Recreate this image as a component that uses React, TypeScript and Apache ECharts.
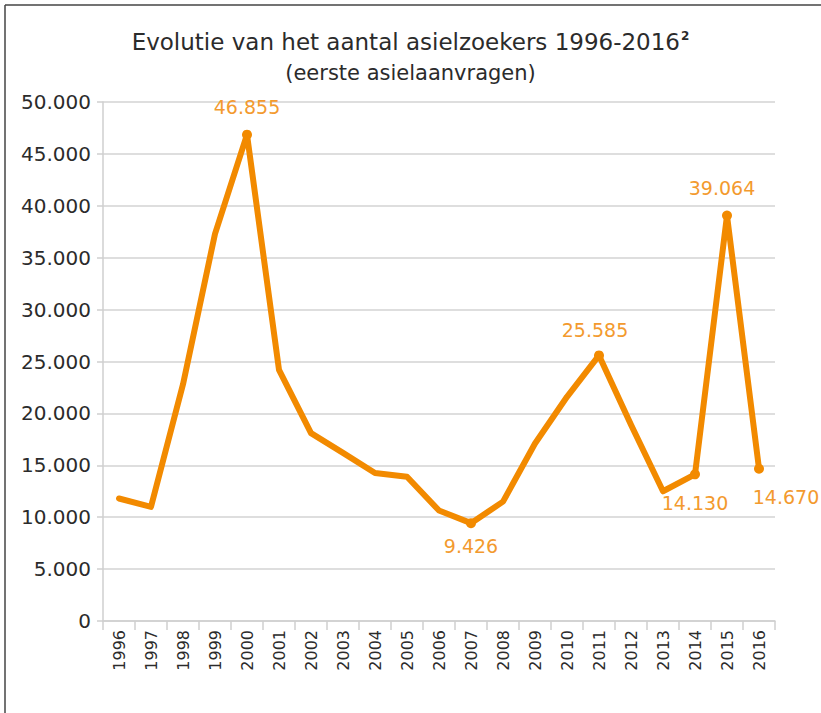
import React, { useEffect, useRef } from "react";
import * as echarts from "echarts";

const years = ["1996","1997","1998","1999","2000","2001","2002","2003","2004","2005","2006","2007","2008","2009","2010","2011","2012","2013","2014","2015","2016"];
const asylumSeekers = [11800, 11000, 22800, 37300, 46855, 24200, 18100, 16200, 14260, 13900, 10640, 9426, 11500, 17100, 21600, 25585, 18900, 12500, 14130, 39064, 14670];
const labelledYears = ["2000", "2007", "2011", "2014", "2015", "2016"];
const yTickValues = [0, 5000, 10000, 15000, 20000, 25000, 30000, 35000, 40000, 45000, 50000];

const fmt = (v: number) => {
  const s = String(Math.round(v));
  return s.replace(/\B(?=(\d{3})+(?!\d))/g, ".");
};

const FONT = "'DejaVu Sans', sans-serif";
const LINE = "#F28A00";
const LABEL = "#F39A2E";

export default function App() {
  const ref = useRef<HTMLDivElement>(null);
  useEffect(() => {
    if (!ref.current) return;
    const chart = echarts.init(ref.current, null, { renderer: "svg" });
    const labelCfg: Record<string, any> = {
      "2000": { position: "top", distance: 13, offset: [0, 0] },
      "2007": { position: "bottom", distance: 8, offset: [0, 0] },
      "2011": { position: "top", distance: 11, offset: [-4, 0] },
      "2014": { position: "bottom", distance: 14, offset: [0, 0] },
      "2015": { position: "top", distance: 13, offset: [-5, 0] },
      "2016": { position: "bottom", distance: 14, offset: [27, 0] },
    };
    const data = asylumSeekers.map((v, i) => {
      const y = years[i];
      if (labelledYears.indexOf(y) >= 0) {
        const c = labelCfg[y];
        return {
          value: v,
          symbol: "circle",
          symbolSize: 10,
          label: {
            show: true,
            position: c.position,
            distance: c.distance,
            offset: c.offset,
            formatter: fmt(v),
            color: LABEL,
            fontSize: 19,
            fontFamily: FONT,
          },
        };
      }
      return { value: v, symbol: "none" };
    });
    chart.setOption({
      animation: false,
      backgroundColor: "#ffffff",
      title: {
        left: "center",
        top: 25,
        text: "{a|Evolutie van het aantal asielzoekers 1996-2016}{b|2}",
        subtext: "(eerste asielaanvragen)",
        itemGap: 9,
        textStyle: {
          rich: {
            a: { fontSize: 23, color: "#2b2b2b", fontFamily: FONT, fontWeight: "normal" },
            b: { fontSize: 12, color: "#2b2b2b", fontFamily: FONT, verticalAlign: "top", padding: [0, 0, 10, 1] },
          },
        },
        subtextStyle: { fontSize: 21, color: "#2b2b2b", fontFamily: FONT },
      },
      graphic: [
        { type: "line", shape: { x1: 5, y1: 5, x2: 821, y2: 5 }, style: { stroke: "#444", lineWidth: 1.5 } },
        { type: "line", shape: { x1: 5, y1: 5, x2: 5, y2: 713 }, style: { stroke: "#444", lineWidth: 1.5 } },
      ],
      grid: { left: 103, right: 46, top: 102, bottom: 92, containLabel: false },
      xAxis: {
        type: "category",
        data: years,
        boundaryGap: true,
        axisLine: { show: true, lineStyle: { color: "#cfcfcf", width: 1.5 } },
        axisTick: { show: true, length: 9, lineStyle: { color: "#cfcfcf", width: 1.5 } },
        axisLabel: { rotate: 90, fontSize: 16, color: "#2b2b2b", fontFamily: FONT, margin: 9 },
      },
      yAxis: {
        type: "value",
        min: yTickValues[0],
        max: yTickValues[yTickValues.length - 1],
        interval: yTickValues[1] - yTickValues[0],
        axisLine: { show: true, lineStyle: { color: "#cfcfcf", width: 1.5 } },
        axisTick: { show: true, length: 6, lineStyle: { color: "#cfcfcf", width: 1.5 } },
        axisLabel: { fontSize: 20, color: "#2b2b2b", fontFamily: FONT, margin: 12, formatter: (v: number) => fmt(v) },
        splitLine: { show: true, lineStyle: { color: "#d3d3d3", width: 1.5 } },
      },
      series: [
        {
          type: "line",
          data,
          lineStyle: { color: LINE, width: 6, join: "round", cap: "round" },
          itemStyle: { color: LINE },
          emphasis: { disabled: true },
        },
      ],
    });
    return () => chart.dispose();
  }, []);
  return <div ref={ref} style={{ position: "fixed", left: 0, top: 0, width: 821, height: 713 }} />;
}
